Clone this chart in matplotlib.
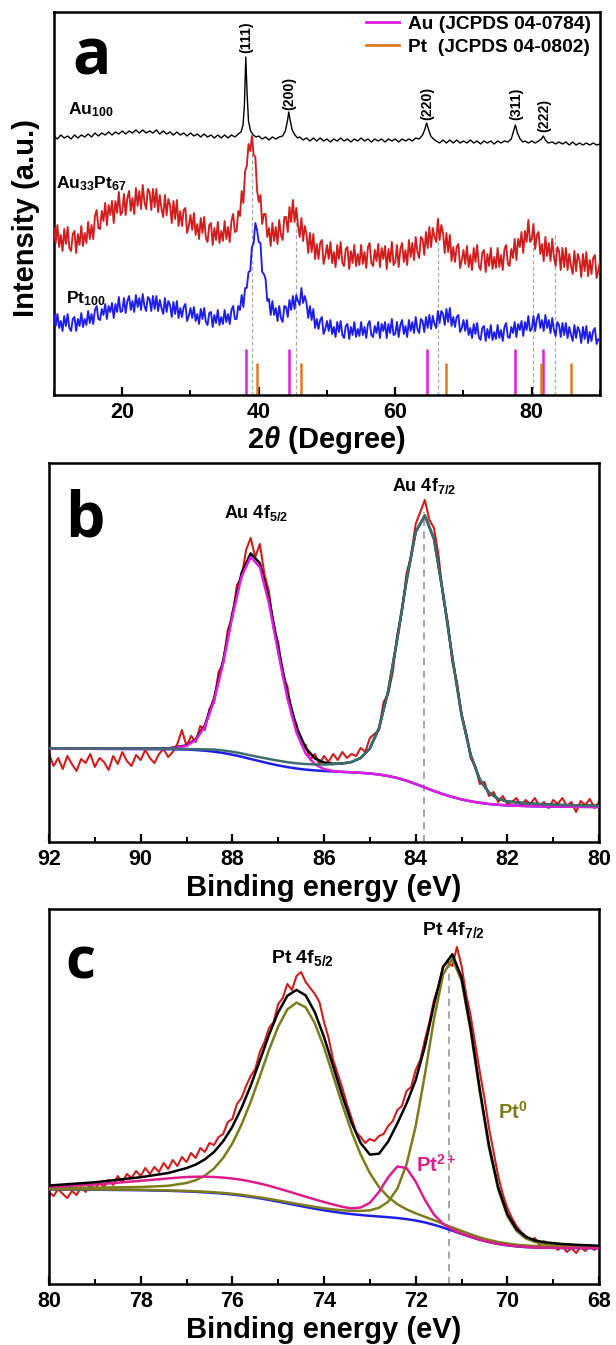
import numpy as np
import matplotlib
matplotlib.use("Agg")
import matplotlib.pyplot as plt
from matplotlib.lines import Line2D
from matplotlib.ticker import MultipleLocator

plt.rcParams['font.family'] = ['Liberation Sans', 'DejaVu Sans']
plt.rcParams['font.weight'] = 'bold'
plt.rcParams['axes.labelweight'] = 'bold'
plt.rcParams['mathtext.fontset'] = 'custom'
plt.rcParams['mathtext.rm'] = 'Liberation Sans:bold'
plt.rcParams['mathtext.bf'] = 'Liberation Sans:bold'
plt.rcParams['mathtext.it'] = 'Liberation Sans:bold:italic'

# ---------------- (a) XRD ----------------
two_theta = np.arange(10, 90.01, 0.25)

au33pt67 = [
    167, 152, 170, 148, 160, 144, 166, 151, 168, 147, 144, 161, 164, 142, 161, 150, 169, 149, 162, 152,
    173, 156, 170, 156, 179, 185, 167, 166, 184, 174, 192, 170, 190, 180, 194, 172, 194, 182, 203, 180,
    183, 201, 180, 197, 204, 184, 197, 181, 207, 189, 204, 186, 210, 193, 186, 206, 203, 185, 206, 188,
    206, 183, 200, 186, 178, 200, 180, 196, 190, 172, 194, 176, 195, 169, 184, 169, 185, 187, 162, 169,
    180, 165, 182, 160, 171, 156, 177, 162, 178, 157, 153, 170, 172, 150, 167, 155, 173, 152, 164, 154,
    174, 156, 168, 153, 174, 181, 163, 164, 184, 179, 204, 192, 224, 229, 251, 244, 259, 240, 238, 205,
    193, 200, 171, 181, 181, 158, 167, 149, 172, 154, 168, 151, 175, 160, 155, 178, 178, 163, 188, 173,
    195, 173, 187, 170, 158, 177, 154, 169, 161, 142, 162, 143, 161, 136, 151, 136, 152, 155, 131, 139,
    150, 136, 153, 132, 143, 128, 150, 136, 153, 132, 129, 146, 148, 126, 144, 132, 150, 129, 141, 130,
    150, 131, 143, 127, 148, 152, 132, 129, 145, 134, 151, 128, 147, 136, 149, 126, 146, 133, 153, 130,
    133, 150, 128, 146, 152, 133, 145, 130, 155, 138, 152, 135, 158, 143, 137, 158, 156, 140, 163, 147,
    168, 148, 167, 158, 153, 176, 155, 170, 162, 142, 162, 143, 160, 134, 148, 133, 148, 151, 127, 135,
    145, 131, 149, 128, 140, 125, 147, 133, 150, 129, 125, 142, 145, 123, 141, 129, 147, 126, 138, 127,
    147, 128, 140, 125, 146, 150, 131, 129, 146, 137, 156, 135, 156, 148, 163, 142, 164, 153, 175, 153,
    156, 171, 146, 160, 163, 141, 151, 134, 158, 139, 152, 134, 156, 138, 129, 148, 144, 125, 147, 128,
    147, 125, 141, 129, 121, 144, 124, 141, 135, 118, 141, 124, 143, 119, 135, 121, 137, 140, 117, 124,
    134,
]

pt100 = [
    79, 69, 81, 67, 74, 64, 79, 69, 81, 67, 64, 76, 78, 64, 76, 69, 82, 68, 76, 70,
    84, 72, 81, 71, 85, 89, 76, 75, 86, 80, 91, 76, 89, 83, 92, 77, 91, 83, 98, 83,
    84, 97, 82, 94, 99, 85, 94, 83, 100, 88, 97, 85, 101, 89, 84, 98, 96, 84, 99, 86,
    99, 84, 95, 87, 81, 97, 83, 94, 90, 78, 93, 81, 94, 77, 87, 78, 88, 91, 74, 79,
    87, 77, 88, 74, 81, 71, 86, 76, 87, 73, 70, 82, 83, 68, 80, 72, 85, 70, 78, 71,
    85, 73, 81, 71, 85, 89, 76, 76, 89, 85, 100, 88, 107, 107, 123, 124, 148, 152, 172, 165,
    153, 152, 123, 121, 116, 94, 96, 80, 94, 80, 87, 74, 89, 77, 73, 89, 88, 78, 95, 85,
    99, 86, 100, 94, 90, 107, 92, 99, 92, 77, 89, 75, 86, 67, 76, 66, 75, 78, 61, 66,
    74, 64, 75, 61, 68, 58, 73, 63, 74, 60, 57, 69, 71, 56, 68, 60, 73, 58, 66, 59,
    73, 60, 68, 57, 71, 74, 60, 58, 69, 62, 73, 57, 71, 64, 73, 57, 71, 62, 76, 60,
    61, 73, 58, 70, 75, 61, 69, 58, 75, 64, 73, 62, 78, 66, 62, 76, 74, 63, 78, 67,
    80, 66, 79, 71, 67, 84, 72, 84, 81, 70, 86, 73, 87, 69, 78, 68, 78, 80, 63, 67,
    75, 64, 75, 60, 67, 57, 71, 61, 72, 58, 55, 67, 69, 54, 66, 57, 70, 55, 63, 56,
    70, 57, 65, 54, 68, 72, 58, 57, 68, 62, 73, 58, 71, 65, 74, 59, 73, 65, 79, 64,
    66, 79, 64, 76, 81, 67, 75, 64, 80, 67, 75, 62, 77, 65, 59, 73, 70, 58, 72, 60,
    72, 57, 68, 60, 54, 70, 57, 68, 64, 52, 68, 56, 69, 52, 63, 54, 64, 67, 51, 56,
    54,
]

# Au100 is sharp, so it gets its own denser sampling around the reflections
au100_pts = [
    (10, 259), (10.5, 256), (11, 260), (11.5, 257), (12, 259), (12.5, 256),
    (13, 260), (13.5, 257), (14, 260), (14.5, 258), (15, 261), (15.5, 258),
    (16, 262), (16.5, 259), (17, 262), (17.5, 260), (18, 263), (18.5, 260),
    (19, 263), (19.5, 261), (20, 264), (20.5, 261), (21, 264), (21.5, 262),
    (22, 265), (22.5, 262), (23, 265), (23.5, 262), (24, 264), (24.5, 262),
    (25, 265), (25.5, 261), (26, 264), (26.5, 261), (27, 263), (27.5, 260),
    (28, 263), (28.5, 260), (29, 262), (29.5, 259), (30, 262), (30.5, 259),
    (31, 261), (31.5, 258), (32, 261), (32.5, 258), (33, 260), (33.5, 257),
    (34, 260), (34.5, 257), (35, 260), (35.5, 257), (36, 260), (36.5, 258),
    (37, 261), (37.4, 263), (37.7, 270), (37.9, 290), (38.1, 338), (38.3, 300),
    (38.5, 274), (38.8, 264), (39.2, 260), (39.6, 258), (40, 259), (40.5, 256),
    (41, 258), (41.5, 255), (42, 258), (42.5, 256), (43, 258), (43.5, 259),
    (43.9, 264), (44.2, 274), (44.4, 283), (44.6, 275), (44.9, 265), (45.3, 260),
    (45.7, 257), (46, 258), (46.5, 255), (47, 257), (47.5, 254), (48, 257),
    (48.5, 254), (49, 257), (49.5, 254), (50, 256), (50.5, 253), (51, 256),
    (51.5, 254), (52, 257), (52.5, 254), (53, 256), (53.5, 253), (54, 256),
    (54.5, 254), (55, 257), (55.5, 254), (56, 256), (56.5, 253), (57, 256),
    (57.5, 254), (58, 256), (58.5, 253), (59, 256), (59.5, 254), (60, 256),
    (60.5, 253), (61, 256), (61.5, 254), (62, 256), (62.5, 254), (63, 257),
    (63.5, 256), (64, 260), (64.3, 265), (64.6, 272), (64.9, 265), (65.2, 259),
    (65.6, 256), (66, 254), (66.5, 252), (67, 255), (67.5, 252), (68, 255),
    (68.5, 252), (69, 255), (69.5, 252), (70, 254), (70.5, 252), (71, 255),
    (71.5, 252), (72, 254), (72.5, 251), (73, 254), (73.5, 252), (74, 254),
    (74.5, 251), (75, 254), (75.5, 252), (76, 254), (76.5, 253), (77, 256),
    (77.3, 263), (77.6, 270), (77.9, 262), (78.3, 256), (78.7, 253), (79, 254),
    (79.5, 252), (80, 254), (80.5, 252), (81, 254), (81.4, 256), (81.7, 259),
    (82, 255), (82.4, 252), (83, 253), (83.5, 251), (84, 253), (84.5, 251),
    (85, 253), (85.5, 250), (86, 253), (86.5, 250), (87, 252), (87.5, 250),
    (88, 252), (88.5, 250), (89, 252), (89.5, 250), (90, 251),
]
au100_2theta, au100 = map(np.array, zip(*au100_pts))

au_ref = [38.2, 44.4, 64.6, 77.6, 81.7]   # JCPDS 04-0784
pt_ref = [39.8, 46.2, 67.5, 81.3, 85.7]   # JCPDS 04-0802
hkl = ['(111)', '(200)', '(220)', '(311)', '(222)']
hkl_x = [38.1, 44.5, 64.7, 77.8, 81.9]
hkl_y = [358, 302, 292, 291, 280]
alloy_peaks = [39.0, 45.4, 66.3, 80.2, 83.4]
alloy_top = [250, 188, 178, 168, 160]

# ---------------- (b) Au 4f ----------------
be_b = np.round(np.arange(92.0, 79.95, -0.1), 1)
au4f_raw = [
    88, 76, 84, 73, 86, 78, 71, 83, 79, 88,
    75, 84, 80, 72, 86, 78, 90, 81, 76, 87,
    82, 92, 84, 79, 88, 93, 85, 90, 98, 112,
    96, 106, 100, 116, 112, 133, 139, 170, 178, 212,
    224, 257, 264, 292, 304, 285, 298, 268, 250, 214,
    200, 166, 156, 126, 118, 98, 97, 82, 88, 78,
    86, 80, 88, 82, 90, 84, 88, 86, 94, 90,
    104, 108, 112, 140, 148, 170, 208, 230, 268, 286,
    318, 330, 342, 322, 314, 286, 244, 220, 180, 160,
    128, 110, 84, 76, 58, 60, 46, 50, 40, 46,
    38, 40, 44, 36, 42, 38, 44, 36, 40, 34,
    42, 38, 44, 36, 40, 30, 41, 37, 43, 34,
    40,
]

fit_b = [92.0, 91.0, 90.0, 89.4, 89.0, 88.8, 88.6, 88.4, 88.2, 88.0, 87.8,
         87.6, 87.4, 87.2, 87.0, 86.8, 86.6, 86.4, 86.2, 86.0, 85.8, 85.6,
         85.4, 85.2, 85.0, 84.8, 84.6, 84.4, 84.2, 84.0, 83.8, 83.6, 83.4,
         83.2, 83.0, 82.8, 82.6, 82.4, 82.2, 82.0, 81.5, 81.0, 80.0]
bg_b = [93.5, 93.2, 93.0, 92.8, 92.5, 92.0, 91.3, 90.3, 89.0, 87.3, 85.3,
        83.0, 80.8, 78.6, 76.6, 74.9, 73.5, 72.4, 71.6, 71.0, 70.5, 70.1,
        69.7, 69.2, 68.5, 67.5, 66.0, 64.0, 61.3, 58.0, 54.5, 51.0, 47.8,
        45.0, 42.6, 40.7, 39.2, 38.0, 37.2, 36.6, 35.8, 35.4, 35.0]
au4f52 = [93.5, 93.2, 93.0, 93.1, 96.1, 102.0, 115.3, 141.3, 179.0, 225.3,
          265.3, 285.0, 274.8, 238.6, 189.6, 143.9, 109.5, 88.4, 77.6, 73.0,
          71.0, 70.1, 69.7, 69.2, 68.5, 67.5, 66.0, 64.0, 61.3, 58.0, 54.5,
          51.0, 47.8, 45.0, 42.6, 40.7, 39.2, 38.0, 37.2, 36.6, 35.8, 35.4, 35.0]
au4f72 = [93.8, 93.5, 93.4, 93.3, 93.0, 92.8, 92.6, 92.5, 91.5, 90.3, 88.6,
          86.6, 84.8, 83.0, 81.3, 79.8, 78.7, 78.0, 77.6, 77.5, 77.8, 78.5,
          80.0, 84.0, 93.5, 113.8, 150.8, 203.5, 261.3, 310.0, 326.5, 303.0,
          247.8, 184.5, 127.4, 87.0, 62.3, 49.3, 43.2, 40.5, 38.3, 37.2, 36.1]
au4f_sum = [93.8, 93.5, 93.4, 93.6, 96.6, 102.8, 116.6, 143.5, 181.5, 228.3,
            268.6, 288.6, 278.8, 243.0, 194.3, 148.8, 114.7, 94.0, 83.6, 79.5,
            78.3, 78.5, 80.0, 84.0, 93.5, 113.8, 150.8, 203.5, 261.3, 310.0,
            326.5, 303.0, 247.8, 184.5, 127.4, 87.0, 62.3, 49.3, 43.2, 40.5,
            38.3, 37.2, 36.1]
au4f72_pos = 83.81

# ---------------- (c) Pt 4f ----------------
be_c = np.round(np.arange(80.0, 67.95, -0.1), 1)
pt4f_raw = [
    92, 88, 95, 90, 86, 93, 89, 97, 92, 99,
    95, 101, 97, 104, 99, 108, 102, 110, 106, 113,
    108, 116, 110, 117, 112, 121, 115, 124, 118, 127,
    122, 131, 126, 136, 132, 141, 139, 147, 150, 162,
    165, 180, 186, 198, 208, 215, 232, 242, 256, 262,
    280, 286, 300, 294, 308, 312, 302, 296, 290, 282,
    262, 246, 224, 210, 196, 180, 166, 152, 147, 141,
    145, 143, 148, 150, 158, 163, 174, 178, 193, 197,
    214, 224, 244, 262, 284, 298, 318, 322, 318, 337,
    318, 290, 268, 240, 212, 186, 156, 132, 108, 90,
    76, 66, 58, 52, 48, 44, 46, 39, 43, 37,
    41, 34, 38, 32, 36, 31, 37, 33, 38, 34,
    38,
]

fit_c = [80.0, 79.0, 78.0, 77.4, 77.0, 76.8, 76.6, 76.4, 76.2, 76.0,
         75.8, 75.6, 75.4, 75.2, 75.0, 74.8, 74.6, 74.4, 74.2, 74.0,
         73.8, 73.6, 73.4, 73.2, 73.0, 72.8, 72.6, 72.4, 72.2, 72.0,
         71.8, 71.6, 71.4, 71.2, 71.0, 70.8, 70.6, 70.4, 70.2, 70.0,
         69.8, 69.6, 69.4, 69.2, 68.8, 68.4, 68.0]
bg_c = [94.5, 94.3, 93.8, 93.2, 92.6, 92.2, 91.7, 91.1, 90.4, 89.5,
        88.4, 87.1, 85.7, 84.1, 82.4, 80.6, 78.8, 77.0, 75.3, 73.7,
        72.3, 71.0, 69.9, 69.0, 68.2, 67.5, 66.8, 66.0, 64.9, 63.5,
        61.6, 59.2, 56.4, 53.3, 50.1, 47.0, 44.2, 41.9, 40.0, 38.6,
        37.6, 36.9, 36.5, 36.2, 36.0, 35.9, 35.8]
pt0_52 = [95.8, 96.3, 97.0, 98.2, 101.0, 103.8, 108.4, 115.5, 126.1, 140.5,
          159.4, 182.1, 207.7, 234.1, 257.4, 274.6, 281.4, 276.7, 260.7, 236.7,
          208.3, 179.3, 152.4, 129.4, 110.9, 97.0, 87.0, 79.8, 74.7, 70.7,
          67.2, 63.8, 60.1, 56.6, 53.1, 49.7, 46.6, 44.1, 42.0, 40.5,
          39.3, 38.5, 38.0, 37.6, 37.2, 37.0, 36.7]
pt0_72 = [94.7, 94.6, 94.2, 93.6, 93.1, 92.7, 92.3, 91.7, 91.1, 90.2,
          89.2, 87.9, 86.6, 85.1, 83.5, 81.9, 80.2, 78.6, 77.1, 75.7,
          74.6, 73.7, 73.2, 73.1, 73.7, 76.2, 82.3, 95.3, 119.5, 157.8,
          209.2, 264.9, 309.7, 325.3, 303.4, 252.7, 191.8, 136.2, 94.6, 67.9,
          53.1, 45.6, 42.0, 40.3, 38.7, 37.9, 37.4]
pt2 = [97.0, 99.5, 103.2, 105.6, 107.0, 107.3, 107.3, 107.0, 106.4, 105.5,
       104.2, 102.5, 100.5, 98.2, 95.6, 92.9, 90.1, 87.3, 84.6, 82.0,
       79.5, 77.2, 75.6, 76.5, 81.2, 92.1, 106.8, 117.5, 116.0, 102.3,
       84.2, 69.3, 60.1, 54.5, 50.5, 47.3, 44.4, 42.1, 40.2, 38.8,
       37.8, 37.1, 36.6, 36.3, 36.1, 36.0, 35.9]
pt4f_sum = [98.5, 101.7, 106.8, 111.0, 115.9, 119.4, 124.6, 132.0, 142.8, 157.2,
            176.0, 198.3, 223.4, 249.2, 271.7, 288.2, 294.1, 288.6, 271.8, 247.0,
            217.8, 188.2, 161.4, 141.0, 129.4, 130.3, 142.5, 160.6, 180.4, 203.8,
            237.4, 279.6, 317.1, 329.8, 306.8, 255.7, 194.4, 138.6, 96.8, 69.9,
            54.9, 47.3, 43.6, 41.8, 40.0, 39.0, 38.3]
pt4f72_pos = 71.27

RED = '#D01E1E'
BLUE = '#1E1EE6'
MAGENTA = '#E01EE0'
ORANGE = '#E07A1F'
TEAL = '#3F6E6E'
OLIVE = '#7C7C1C'
PINK = '#DC1E8C'
GUIDE = '#A8A8A8'


def style_axis(ax, fontsize=15.5):
    for s in ax.spines.values():
        s.set_linewidth(1.8)
    ax.tick_params(axis='x', which='major', direction='in', length=6, width=1.6,
                   labelsize=fontsize, pad=5, top=False)
    ax.tick_params(axis='x', which='minor', direction='in', length=3.5, width=1.4,
                   top=False)
    ax.tick_params(axis='y', which='both', left=False, right=False, labelleft=False)


def panel_letter(ax, letter, x, y, size):
    ax.text(x, y, letter, transform=ax.transAxes, fontsize=size,
            family=['Open Sans', 'Liberation Sans'], fontweight='bold', va='baseline')


fig = plt.figure(figsize=(6.16, 13.45), dpi=100)

# (a) XRD patterns
ax = fig.add_axes([0.08766, 0.70632, 0.88636, 0.28498])
ax.vlines(alloy_peaks, 0, alloy_top, colors=GUIDE, linestyles=(0, (3, 2)), lw=0.9, zorder=1)
ax.plot(au100_2theta, au100, color='black', lw=1.0, zorder=3)
ax.plot(two_theta, au33pt67, color=RED, lw=1.35, zorder=3)
ax.plot(two_theta, pt100, color=BLUE, lw=1.35, zorder=3)
ax.vlines(au_ref, 0, 46, colors=MAGENTA, lw=1.8, zorder=2)
ax.vlines(pt_ref, 0, 32, colors=ORANGE, lw=1.8, zorder=2)
for lab, x, y in zip(hkl, hkl_x, hkl_y):
    ax.text(x, y, lab, rotation=90, ha='center', va='center', fontsize=10.2)
ax.text(12.0, 280.7, r'Au$_{100}$', fontsize=12.6, va='baseline')
ax.text(10.3, 206.7, r'Au$_{33}$Pt$_{67}$', fontsize=12.6, va='baseline')
ax.text(11.8, 91.7, r'Pt$_{100}$', fontsize=12.6, va='baseline')
handles = [Line2D([], [], color=MAGENTA, lw=2), Line2D([], [], color=ORANGE, lw=2)]
ax.legend(handles, ['Au (JCPDS 04-0784)', 'Pt  (JCPDS 04-0802)'], loc='upper right',
          bbox_to_anchor=(0.99, 1.0), frameon=False, fontsize=13.8, handlelength=1.7,
          handletextpad=0.45, labelspacing=0.3, borderpad=0.2, borderaxespad=0)
ax.set_xlim(10, 90)
ax.set_ylim(0, 383.3)
ax.xaxis.set_major_locator(MultipleLocator(20))
ax.xaxis.set_minor_locator(MultipleLocator(10))
style_axis(ax)
ax.set_xlabel(r'2$\theta$ (Degree)', fontsize=21)
ax.xaxis.set_label_coords(0.5, -0.117)
ax.xaxis.label.set_va('center')
ax.set_ylabel('Intensity (a.u.)', fontsize=21)
ax.yaxis.set_label_coords(-0.052, 0.463)
ax.yaxis.label.set_va('center')
panel_letter(ax, 'a', 0.033, 0.835, 46)

# (b) Au 4f XPS
ax = fig.add_axes([0.07955, 0.37398, 0.89286, 0.28178])
ax.vlines(au4f72_pos, 0, 330, colors='#A0A0A0', linestyles=(0, (4, 3)), lw=1.3, zorder=1)
ax.plot(be_b, au4f_raw, color=RED, lw=1.5, zorder=2)
ax.plot(fit_b, au4f_sum, color='black', lw=1.8, zorder=3)
ax.plot(fit_b, bg_b, color=BLUE, lw=1.8, zorder=4)
ax.plot(fit_b, au4f52, color=MAGENTA, lw=1.8, zorder=5)
ax.plot(fit_b, au4f72, color=TEAL, lw=1.8, zorder=6)
ax.text(88.19, 323.7, r'Au 4f$_{5/2}$', fontsize=13, va='baseline')
ax.text(84.51, 351.3, r'Au 4f$_{7/2}$', fontsize=13, va='baseline')
ax.set_xlim(92, 80)
ax.set_ylim(0, 379)
ax.xaxis.set_major_locator(MultipleLocator(2))
ax.xaxis.set_minor_locator(MultipleLocator(1))
style_axis(ax)
ax.set_xlabel('Binding energy (eV)', fontsize=21)
ax.xaxis.set_label_coords(0.5, -0.121)
ax.xaxis.label.set_va('center')
panel_letter(ax, 'b', 0.03, 0.805, 45)

# (c) Pt 4f XPS
ax = fig.add_axes([0.07955, 0.04535, 0.89286, 0.27881])
ax.vlines(pt4f72_pos, 0, 327, colors='#A0A0A0', linestyles=(0, (4, 3)), lw=1.3, zorder=1)
ax.plot(be_c, pt4f_raw, color=RED, lw=1.5, zorder=2)
ax.plot(fit_c, bg_c, color=BLUE, lw=1.8, zorder=3)
ax.plot(fit_c, pt0_52, color=OLIVE, lw=1.8, zorder=4)
ax.plot(fit_c, pt0_72, color=OLIVE, lw=1.8, zorder=4)
ax.plot(fit_c, pt2, color=PINK, lw=1.8, zorder=5)
ax.plot(fit_c, pt4f_sum, color='black', lw=1.8, zorder=6)
ax.text(75.16, 320.7, r'Pt 4f$_{5/2}$', fontsize=14, va='baseline')
ax.text(71.87, 349.0, r'Pt 4f$_{7/2}$', fontsize=14, va='baseline')
ax.text(70.2, 165.7, r'Pt$^{0}$', fontsize=14.5, color=OLIVE, va='baseline')
ax.text(72.0, 112.3, r'Pt$^{2+}$', fontsize=14.5, color=PINK, va='baseline')
ax.set_xlim(80, 68)
ax.set_ylim(0, 375)
ax.xaxis.set_major_locator(MultipleLocator(2))
ax.xaxis.set_minor_locator(MultipleLocator(1))
style_axis(ax)
ax.set_xlabel('Binding energy (eV)', fontsize=21)
ax.xaxis.set_label_coords(0.5, -0.123)
ax.xaxis.label.set_va('center')
panel_letter(ax, 'c', 0.03, 0.816, 42)

fig.savefig('out.png', dpi=100)
